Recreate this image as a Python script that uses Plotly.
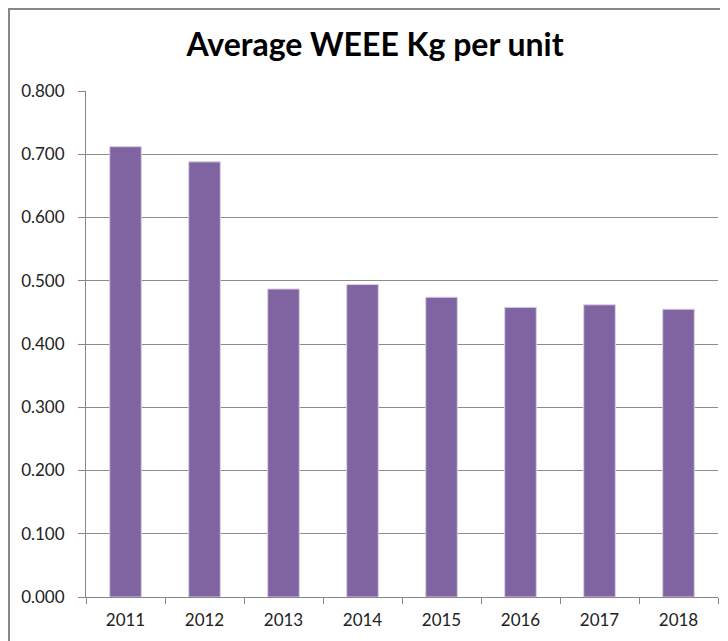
import plotly.graph_objects as go

years = ["2011", "2012", "2013", "2014", "2015", "2016", "2017", "2018"]
avg_kg = [0.712, 0.688, 0.487, 0.494, 0.474, 0.458, 0.462, 0.455]
y_ticks = [0.0, 0.1, 0.2, 0.3, 0.4, 0.5, 0.6, 0.7, 0.8]

FONT = "Lato, Liberation Sans Narrow, sans-serif"

W, H = 720, 633  # page body has an 8px margin
L, R, T, B = 78, 10, 83, 44

fig = go.Figure(go.Bar(x=years, y=avg_kg,
                       marker=dict(color="#8064A2", line=dict(color="#D9D0E6", width=1)),
                       width=0.4))

fig.update_layout(
    width=W, height=H,
    margin=dict(l=L, r=R, t=T, b=B),
    paper_bgcolor="white", plot_bgcolor="white",
    title=dict(text="<b>Average WEEE Kg per unit</b>", x=367 / W, xanchor="center", xref="container",
               y=1 - 37 / H, yanchor="middle", font=dict(family=FONT, size=32, color="black")),
    font=dict(family=FONT, size=17, color="#222222"),
    showlegend=False,
)
fig.update_xaxes(type="category", tickson="boundaries", ticks="outside", ticklen=6, tickcolor="#868686",
                 showline=True, linecolor="#868686", linewidth=1, showgrid=False,
                 ticklabelstandoff=8,
                 tickfont=dict(family=FONT, size=17, color="#222222"))
fig.update_yaxes(range=[0, 0.8], tickvals=y_ticks, tickformat=".3f", ticks="outside", ticklen=7,
                 tickcolor="#868686", showline=True, linecolor="#868686", linewidth=1,
                 showgrid=True, gridcolor="#8c8c8c", gridwidth=1, zeroline=False,
                 ticklabelstandoff=10,
                 tickfont=dict(family=FONT, size=17, color="#222222"))

pw, ph = W - L - R, H - T - B
# outer chart border (partially cropped in the reference)
fig.add_shape(type="rect", xref="paper", yref="paper",
              x0=(1 - L) / pw, x1=1.2, y0=-0.3, y1=(ph + T - 1) / ph,
              line=dict(color="#878787", width=2), fillcolor="rgba(0,0,0,0)", layer="below")

fig.write_html("out.html")
